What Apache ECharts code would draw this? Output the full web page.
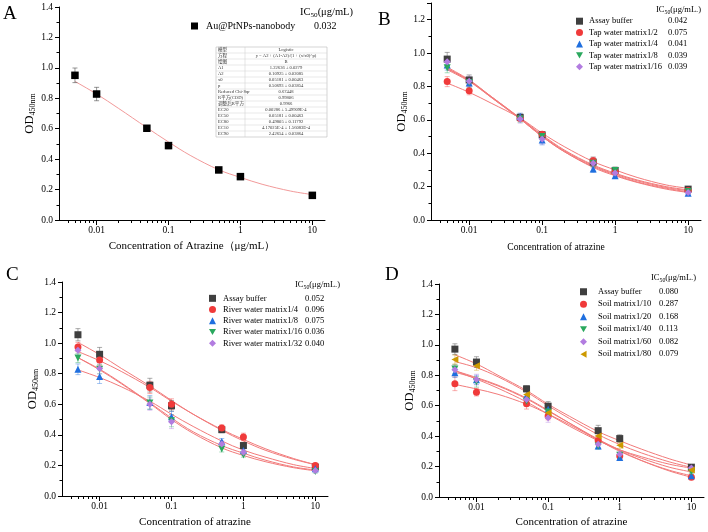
<!DOCTYPE html>
<html style="width: 100%; height: 100%">
<head>
    <meta charset="utf-8">
    <script src="https://cdn.jsdelivr.net/npm/echarts@6/dist/echarts.min.js"></script>
</head>
<body style="width: 100%; height: 100%; margin: 0; background: #fff">
<div id="container" style="width: 708px; height: 532px"></div>

<script type="text/javascript">
    // concentrations of atrazine (μg/mL)
    var concX = [0.005, 0.01, 0.05, 0.1, 0.5, 1, 10];
    var fitX = [0.005, 0.01, 0.02, 0.05, 0.1, 0.2, 0.5, 1, 2, 5, 10];
    var xTicks = [0.01, 0.1, 1, 10];
    var xMinorTicks = [0.004, 0.005, 0.006, 0.007, 0.008, 0.009,
        0.02, 0.03, 0.04, 0.05, 0.06, 0.07, 0.08, 0.09,
        0.2, 0.3, 0.4, 0.5, 0.6, 0.7, 0.8, 0.9,
        2, 3, 4, 5, 6, 7, 8, 9];

    // A
    var aNames = ['Au@PtNPs-nanobody'];
    var aIC50 = ['0.032'];
    var aMean = [[0.951, 0.828, 0.603, 0.489, 0.329, 0.285, 0.162]];
    var aErr = [[0.048, 0.044, 0.015, 0.02, 0.015, 0.01, 0.01]];
    var aFit = [[0.911, 0.828, 0.735, 0.607, 0.513, 0.425, 0.33, 0.28, 0.235, 0.19, 0.167]];

    // B
    var bNames = ['Assay buffer', 'Tap water matrix1/2', 'Tap water matrix1/4', 'Tap water matrix1/8', 'Tap water matrix1/16'];
    var bIC50 = ['0.042', '0.075', '0.041', '0.039', '0.039'];
    var bMean = [
        [0.964, 0.839, 0.615, 0.51, 0.347, 0.297, 0.185],
        [0.829, 0.775, 0.61, 0.514, 0.355, 0.289, 0.177],
        [0.928, 0.82, 0.62, 0.48, 0.305, 0.265, 0.161],
        [0.912, 0.823, 0.605, 0.5, 0.34, 0.297, 0.171],
        [0.948, 0.831, 0.605, 0.485, 0.34, 0.281, 0.165]
    ];
    var bErr = [
        [0.04, 0.03, 0.02, 0.02, 0.03, 0.02, 0.01],
        [0.03, 0.025, 0.02, 0.015, 0.02, 0.015, 0.01],
        [0.03, 0.03, 0.02, 0.03, 0.02, 0.015, 0.01],
        [0.03, 0.03, 0.02, 0.02, 0.02, 0.015, 0.01],
        [0.03, 0.03, 0.025, 0.03, 0.03, 0.02, 0.01]
    ];
    var bFit = [
        [0.915, 0.84, 0.74, 0.61, 0.51, 0.42, 0.33, 0.28, 0.24, 0.2, 0.18],
        [0.82, 0.765, 0.7, 0.61, 0.52, 0.44, 0.35, 0.3, 0.255, 0.21, 0.19],
        [0.905, 0.835, 0.735, 0.605, 0.5, 0.41, 0.315, 0.265, 0.225, 0.185, 0.165],
        [0.91, 0.835, 0.74, 0.61, 0.505, 0.415, 0.325, 0.275, 0.235, 0.195, 0.175],
        [0.9, 0.83, 0.735, 0.605, 0.5, 0.41, 0.32, 0.27, 0.228, 0.19, 0.168]
    ];

    // C
    var cNames = ['Assay buffer', 'River water matrix1/4', 'River water matrix1/8', 'River water matrix1/16', 'River water matrix1/32'];
    var cIC50 = ['0.052', '0.096', '0.075', '0.036', '0.040'];
    var cMean = [
        [1.055, 0.927, 0.725, 0.59, 0.434, 0.33, 0.189],
        [0.975, 0.89, 0.71, 0.601, 0.445, 0.386, 0.2],
        [0.829, 0.781, 0.612, 0.519, 0.356, 0.297, 0.178],
        [0.903, 0.83, 0.608, 0.493, 0.308, 0.269, 0.16],
        [0.953, 0.834, 0.601, 0.486, 0.341, 0.287, 0.167]
    ];
    var cErr = [
        [0.04, 0.045, 0.045, 0.035, 0.02, 0.02, 0.015],
        [0.03, 0.035, 0.04, 0.035, 0.02, 0.025, 0.015],
        [0.035, 0.045, 0.045, 0.035, 0.02, 0.02, 0.01],
        [0.03, 0.03, 0.04, 0.04, 0.02, 0.015, 0.01],
        [0.035, 0.035, 0.04, 0.045, 0.02, 0.02, 0.015]
    ];
    var cFit = [
        [1.005, 0.925, 0.835, 0.72, 0.625, 0.535, 0.43, 0.36, 0.3, 0.24, 0.205],
        [0.945, 0.885, 0.815, 0.71, 0.62, 0.535, 0.435, 0.37, 0.31, 0.245, 0.205],
        [0.825, 0.775, 0.715, 0.62, 0.535, 0.455, 0.36, 0.3, 0.255, 0.205, 0.18],
        [0.905, 0.825, 0.735, 0.605, 0.5, 0.41, 0.315, 0.265, 0.225, 0.185, 0.165],
        [0.905, 0.83, 0.74, 0.61, 0.51, 0.42, 0.33, 0.28, 0.235, 0.19, 0.17]
    ];

    // D
    var dNames = ['Assay buffer', 'Soil matrix1/10', 'Soil matrix1/20', 'Soil matrix1/40', 'Soil matrix1/60', 'Soil matrix1/80'];
    var dIC50 = ['0.080', '0.287', '0.168', '0.113', '0.082', '0.079'];
    var dMean = [
        [0.972, 0.887, 0.711, 0.597, 0.436, 0.384, 0.196],
        [0.744, 0.689, 0.613, 0.532, 0.371, 0.27, 0.129],
        [0.816, 0.77, 0.665, 0.576, 0.336, 0.259, 0.14],
        [0.842, 0.757, 0.63, 0.558, 0.336, 0.275, 0.166],
        [0.837, 0.772, 0.641, 0.521, 0.347, 0.281, 0.19],
        [0.903, 0.863, 0.674, 0.554, 0.401, 0.34, 0.177]
    ];
    var dErr = [
        [0.035, 0.035, 0.02, 0.03, 0.035, 0.025, 0.015],
        [0.045, 0.025, 0.035, 0.025, 0.03, 0.02, 0.015],
        [0.03, 0.03, 0.03, 0.03, 0.02, 0.015, 0.01],
        [0.03, 0.035, 0.03, 0.03, 0.02, 0.015, 0.01],
        [0.03, 0.035, 0.03, 0.03, 0.02, 0.015, 0.01],
        [0.03, 0.03, 0.03, 0.03, 0.025, 0.02, 0.015]
    ];
    var dFit = [
        [0.935, 0.875, 0.8, 0.7, 0.61, 0.53, 0.43, 0.37, 0.315, 0.25, 0.21],
        [0.74, 0.71, 0.675, 0.61, 0.545, 0.475, 0.375, 0.305, 0.24, 0.17, 0.13],
        [0.83, 0.785, 0.735, 0.65, 0.57, 0.485, 0.375, 0.3, 0.24, 0.175, 0.14],
        [0.82, 0.78, 0.73, 0.645, 0.565, 0.485, 0.38, 0.31, 0.255, 0.195, 0.165],
        [0.83, 0.775, 0.715, 0.625, 0.545, 0.465, 0.37, 0.31, 0.265, 0.215, 0.19],
        [0.89, 0.85, 0.79, 0.69, 0.6, 0.515, 0.41, 0.345, 0.29, 0.23, 0.195]
    ];

    // fit report table in panel A
    var fitRowNames = ['模型', '方程', '绘图', 'A1', 'A2', 'x0', 'p', 'Reduced Chi-Sqr', 'R平方(COD)', '调整后R平方',
        'EC20', 'EC50', 'EC80', 'EC10', 'EC90'];
    var fitRowValues = ['Logistic', 'y = A2 + (A1-A2)/(1 + (x/x0)^p)', 'B', '1.22636 ± 0.0279', '0.10925 ± 0.02085',
        '0.05181 ± 0.00463', '0.50693 ± 0.03854', '0.67448', '0.99806', '0.9966', '0.00286 ± 5.49909E-4',
        '0.05181 ± 0.00463', '0.49805 ± 0.11792', '4.17025E-4 ± 1.56083E-4', '2.42654 ± 0.03864'];

    var FONT = 'Liberation Serif';
    var colors = ['#3f3f3f', '#f03a3a', '#1f6fdf', '#2aa85e', '#b27ce0', '#cc9900'];
    var errColors = ['rgba(90,90,90,0.5)', 'rgba(240,58,58,0.4)', 'rgba(31,111,223,0.4)',
        'rgba(42,168,94,0.4)', 'rgba(178,124,224,0.4)', 'rgba(204,153,0,0.4)'];
    var symbols = ['rect', 'circle', 'triangle', 'path://M0,0L10,0L5,8.7Z', 'diamond', 'path://M0,5L8.7,0L8.7,10Z'];

    var panels = [
        {key: 'A', names: aNames, ic50: aIC50, mean: aMean, err: aErr, fit: aFit,
            grid: {left: 59, top: 7, width: 266, height: 213}, yMax: 1.4,
            xName: 'Concentration of Atrazine（μg/mL）', xSize: 11, xShift: 0, yGap: 19, xGap: 21,
            legend: {left: 191, top: 20, pad: 3, nameW: 108, size: 10, lh: 12, gap: 0},
            header: {x: 300, y: 12, size: 10.5, unit: '(μg/mL)'}, letter: [3, 5], symSize: 7.5},
        {key: 'B', names: bNames, ic50: bIC50, mean: bMean, err: bErr, fit: bFit,
            grid: {left: 431, top: 3, width: 270, height: 217}, yMax: 1.3,
            xName: 'Concentration of atrazine', xSize: 9.6, xShift: 20, yGap: 16, xGap: 22,
            legend: {left: 576, top: 15.5, pad: 1, nameW: 79, size: 8.5, lh: 11.4, gap: 0},
            header: {x: 656, y: 10, size: 8.5, unit: '(μg/mL.)'}, letter: [378, 11], symSize: 7},
        {key: 'C', names: cNames, ic50: cIC50, mean: cMean, err: cErr, fit: cFit,
            grid: {left: 62, top: 282, width: 266, height: 214}, yMax: 1.4,
            xName: 'Concentration of atrazine', xSize: 11, xShift: 0, yGap: 18, xGap: 21,
            legend: {left: 209, top: 292.7, pad: 2, nameW: 82, size: 8.5, lh: 11.25, gap: 0},
            header: {x: 295, y: 285, size: 8.5, unit: '(μg/mL.)'}, letter: [6, 266], symSize: 7},
        {key: 'D', names: dNames, ic50: dIC50, mean: dMean, err: dErr, fit: dFit,
            grid: {left: 439, top: 284, width: 265, height: 213}, yMax: 1.4,
            xName: 'Concentration of atrazine', xSize: 11, xShift: 0, yGap: 17, xGap: 20,
            legend: {left: 580, top: 285.5, pad: 6, nameW: 61, size: 8.5, lh: 12.5, gap: 0},
            header: {x: 651, y: 278, size: 8.5, unit: '(μg/mL.)'}, letter: [385, 266], symSize: 7}
    ];

    function errorBar(params, api) {
        var x = api.value(0), y = api.value(1), e = api.value(2);
        var top = api.coord([x, y + e]);
        var bot = api.coord([x, y - e]);
        var w = 2.5;
        var style = {stroke: api.visual('color'), lineWidth: 1};
        return {
            type: 'group',
            children: [
                {type: 'line', shape: {x1: top[0], y1: top[1], x2: bot[0], y2: bot[1]}, style: style},
                {type: 'line', shape: {x1: top[0] - w, y1: top[1], x2: top[0] + w, y2: top[1]}, style: style},
                {type: 'line', shape: {x1: bot[0] - w, y1: bot[1], x2: bot[0] + w, y2: bot[1]}, style: style}
            ]
        };
    }

    var grids = [], xAxes = [], yAxes = [], series = [], legends = [], graphics = [];

    panels.forEach(function (p, i) {
        grids.push(p.grid);
        // main log axis: decades with labels
        xAxes.push({
            type: 'log', logBase: 10, gridIndex: i, min: 0.003, max: 15, position: 'bottom',
            axisLine: {lineStyle: {color: '#000', width: 1}},
            axisTick: {customValues: xTicks, length: 5, lineStyle: {color: '#000'}},
            axisLabel: {customValues: xTicks, margin: 5, color: '#000', fontFamily: FONT, fontSize: 9.5,
                formatter: function (v) { return String(v); }},
            splitLine: {show: false},
            name: p.xName, nameLocation: 'middle', nameGap: p.xGap,
            nameTextStyle: {color: '#000', fontFamily: FONT, fontSize: p.xSize, padding: [0, p.xShift, 0, 0]}
        });
        // twin log axis: the short minor ticks 2..9 of each decade
        xAxes.push({
            type: 'log', logBase: 10, gridIndex: i, min: 0.003, max: 15, position: 'bottom',
            axisLine: {show: false},
            axisTick: {show: true, customValues: xMinorTicks, length: 3, lineStyle: {color: '#000'}},
            axisLabel: {show: false},
            splitLine: {show: false}
        });
        yAxes.push({
            type: 'value', gridIndex: i, min: 0, max: p.yMax, interval: 0.2,
            axisLine: {show: true, lineStyle: {color: '#000', width: 1}},
            axisTick: {length: 4, lineStyle: {color: '#000'}},
            minorTick: {show: true, splitNumber: 2, length: 2.5, lineStyle: {color: '#000'}},
            axisLabel: {margin: 6, color: '#000', fontFamily: FONT, fontSize: 9.5, showMaxLabel: p.yMax === 1.4,
                formatter: function (v) { return v.toFixed(1); }},
            splitLine: {show: false},
            name: '{a|OD}{b|450nm}', nameLocation: 'middle', nameGap: p.yGap,
            nameTextStyle: {
                color: '#000',
                rich: {
                    a: {fontFamily: FONT, fontSize: 12.5, lineHeight: 16, color: '#000'},
                    b: {fontFamily: FONT, fontSize: 8, lineHeight: 6, verticalAlign: 'bottom', color: '#000'}
                }
            }
        });

        p.names.forEach(function (name, k) {
            var col = p.key === 'A' ? '#000' : colors[k];
            series.push({
                type: 'line', name: p.key + ' fit ' + k, xAxisIndex: 2 * i, yAxisIndex: i,
                data: fitX.map(function (x, j) { return [x, p.fit[k][j]]; }),
                smooth: 0.35, showSymbol: false, silent: true, z: 2,
                lineStyle: {color: p.key === 'A' ? '#f29a9a' : '#f27a7a', width: 1}
            });
            // error bars sit on the twin axis (same scale) so that axis is not blank
            series.push({
                type: 'custom', name: p.key + ' err ' + k, xAxisIndex: 2 * i + 1, yAxisIndex: i,
                renderItem: errorBar, encode: {x: 0, y: 1}, silent: true, z: 3,
                itemStyle: {color: p.key === 'A' ? 'rgba(80,80,80,0.6)' : errColors[k]},
                data: concX.map(function (x, j) { return [x, p.mean[k][j], p.err[k][j]]; })
            });
            series.push({
                type: 'scatter', name: name, xAxisIndex: 2 * i, yAxisIndex: i,
                symbol: symbols[k], symbolSize: p.symSize, z: 4,
                itemStyle: {color: col, opacity: 1},
                data: concX.map(function (x, j) { return [x, p.mean[k][j]]; })
            });
        });

        var lg = p.legend;
        legends.push({
            orient: 'vertical', left: lg.left, top: lg.top, padding: 0, itemGap: lg.gap,
            itemWidth: 7, itemHeight: 7, selectedMode: false,
            data: p.names,
            formatter: function (name) {
                return '{n|' + name + '}{v|' + p.ic50[p.names.indexOf(name)] + '}';
            },
            textStyle: {
                color: '#000', fontFamily: FONT, fontSize: lg.size, lineHeight: lg.lh,
                rich: {
                    n: {width: lg.nameW, padding: [0, 0, 0, lg.pad], fontFamily: FONT, fontSize: lg.size, lineHeight: lg.lh, color: '#000'},
                    v: {fontFamily: FONT, fontSize: lg.size, lineHeight: lg.lh, color: '#000'}
                }
            }
        });

        graphics.push({
            type: 'text', x: p.header.x, y: p.header.y, silent: true,
            style: {
                text: '{h|IC}{s|50}{h|' + p.header.unit + '}', verticalAlign: 'middle',
                rich: {
                    h: {fontFamily: FONT, fontSize: p.header.size, lineHeight: p.header.size + 3, fill: '#000'},
                    s: {fontFamily: FONT, fontSize: p.header.size * 0.68, lineHeight: 5, verticalAlign: 'bottom', fill: '#000'}
                }
            }
        });
        graphics.push({
            type: 'text', x: p.letter[0], y: p.letter[1], silent: true,
            style: {text: p.key, fontFamily: FONT, fontSize: 19, fill: '#000'}
        });
    });

    // fit report table
    var tbl = {x: 216, y: 47, w: 111, rowH: 6, split: 29};
    var tblChildren = [{
        type: 'rect',
        shape: {x: 0, y: 0, width: tbl.w, height: tbl.rowH * fitRowNames.length},
        style: {fill: '#fff', stroke: '#b8b8b8', lineWidth: 0.6}
    }, {
        type: 'line', shape: {x1: tbl.split, y1: 0, x2: tbl.split, y2: tbl.rowH * fitRowNames.length},
        style: {stroke: '#c8c8c8', lineWidth: 0.5}
    }];
    fitRowNames.forEach(function (nm, r) {
        if (r > 0) {
            tblChildren.push({
                type: 'line', shape: {x1: 0, y1: r * tbl.rowH, x2: tbl.w, y2: r * tbl.rowH},
                style: {stroke: '#d0d0d0', lineWidth: 0.5}
            });
        }
        tblChildren.push({
            type: 'text', x: 2, y: r * tbl.rowH + tbl.rowH / 2,
            style: {text: nm, fontFamily: FONT + ', Noto Sans CJK SC', fontSize: 4.6, fill: '#333', verticalAlign: 'middle'}
        });
        tblChildren.push({
            type: 'text', x: (tbl.split + tbl.w) / 2, y: r * tbl.rowH + tbl.rowH / 2,
            style: {text: fitRowValues[r], fontFamily: FONT + ', Noto Sans CJK SC', fontSize: 4.6, fill: '#333',
                align: 'center', verticalAlign: 'middle'}
        });
    });
    graphics.push({type: 'group', x: tbl.x, y: tbl.y, silent: true, z: 10, children: tblChildren});

    var dom = document.getElementById("container");
    var myChart = echarts.init(dom, null, {renderer: 'canvas'});
    var option = {
        backgroundColor: '#fff',
        animation: false,
        grid: grids,
        xAxis: xAxes,
        yAxis: yAxes,
        legend: legends,
        graphic: graphics,
        series: series
    };
    myChart.setOption(option);
</script>
</body>
</html>
